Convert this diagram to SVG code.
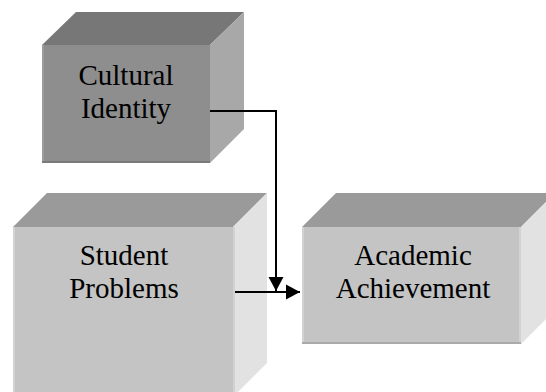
<svg xmlns="http://www.w3.org/2000/svg" width="546" height="392" viewBox="0 0 546 392">
<style>
.lbl{font-family:"Liberation Serif","Times New Roman",serif;font-size:29px;fill:#000;text-anchor:middle}
.topA{fill:#777777}.frontA{fill:#8e8e8e}.sideA{fill:#a8a8a8}
.topB{fill:#9a9a9a}.frontB{fill:#c4c4c4}.sideB{fill:#e2e2e2}
.edgeL{fill:#d2d2d2}.edgeBot{fill:#aaaaaa}
.conn{fill:none;stroke:#000;stroke-width:2}
</style>
<defs>
<marker id="arrow" markerUnits="userSpaceOnUse" markerWidth="16" markerHeight="16" viewBox="0 0 16 16" refX="15" refY="8" orient="auto">
<path d="M1,0.5 L15,8 L1,15.5 Z" fill="#000"/>
</marker>
</defs>
<rect width="546" height="392" fill="#fff"/>
<g id="cultural-identity">
<polygon class="topA" points="42,45 76,12 244,12 210,45"/>
<polygon class="sideA" points="210,45 244,12 244,129 210,163"/>
<rect class="frontA" x="42" y="45" width="168" height="118"/>
<rect fill="#9c9c9c" x="42" y="45" width="2" height="118"/>
<rect fill="#7a7a7a" x="42" y="161" width="168" height="2"/>
<text class="lbl" x="126" y="85">Cultural</text>
<text class="lbl" x="126" y="118">Identity</text>
</g>
<g id="student-problems">
<polygon class="topB" points="13,227 47,193 267,193 233,227"/>
<polygon class="sideB" points="233,227 267,193 267,363 233,397"/>
<rect class="frontB" x="13" y="227" width="220" height="170"/>
<rect class="edgeL" x="13" y="227" width="2" height="170"/>
<rect class="edgeL" x="233" y="227" width="2" height="170"/>
<text class="lbl" x="124" y="265">Student</text>
<text class="lbl" x="124" y="298">Problems</text>
</g>
<g id="academic-achievement">
<polygon class="topB" points="302,227 336,193 555,193 521,227"/>
<polygon class="sideB" points="521,227 555,193 555,310 521,344"/>
<rect class="frontB" x="302" y="227" width="219" height="117"/>
<rect class="edgeL" x="302" y="227" width="2" height="117"/>
<rect class="edgeL" x="519" y="227" width="2" height="117"/>
<rect class="edgeBot" x="302" y="342" width="219" height="2"/>
<text class="lbl" x="413" y="265">Academic</text>
<text class="lbl" x="413" y="298">Achievement</text>
</g>
<g id="connectors">
<polyline class="conn" points="210,111 276,111 276,291" marker-end="url(#arrow)"/>
<line class="conn" x1="235" y1="292" x2="300" y2="292" marker-end="url(#arrow)"/>
</g>
</svg>
